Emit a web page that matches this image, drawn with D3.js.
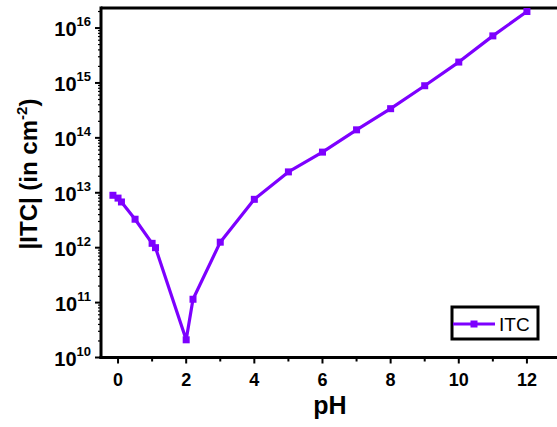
<!DOCTYPE html>
<html>
<head>
<meta charset="utf-8">
<script src="https://cdn.jsdelivr.net/npm/d3@7"></script>
<style>
  body { margin: 0; background: #fff; }
  svg { display: block; font-family: "Liberation Sans", Arial, sans-serif; }
</style>
</head>
<body>
<svg id="chart" width="557" height="427"></svg>
<script>
// data
const pH = [-0.15, 0, 0.1, 0.5, 1.0, 1.1, 2.0, 2.2, 3, 4, 5, 6, 7, 8, 9, 10, 11, 12];
const itc = [9.0e12, 8.0e12, 6.8e12, 3.3e12, 1.2e12, 1.0e12, 2.1e10, 1.15e11, 1.26e12,
             7.6e12, 2.4e13, 5.5e13, 1.4e14, 3.4e14, 8.9e14, 2.4e15, 7.2e15, 2.0e16];
const xTicks = [0, 2, 4, 6, 8, 10, 12];
const yExps = [10, 11, 12, 13, 14, 15, 16];
const seriesName = "ITC";

const purple = "#7d00ff";

const svg = d3.select("#chart");
const mLeft = 101, mTop = 8, mBottom = 357.5, mRight = 561;

const x = d3.scaleLinear().domain([-0.5, 13]).range([mLeft, mRight]);
const y = d3.scaleLog().domain([1e10, Math.pow(10, 16.365)]).range([mBottom, mTop]);

const data = pH.map((p, i) => ({p: p, v: itc[i]}));

// frame (top line, right side is off the picture)
svg.append("line")
  .attr("x1", mLeft).attr("x2", mRight + 10)
  .attr("y1", mTop).attr("y2", mTop)
  .attr("stroke", "#000").attr("stroke-width", 3);

// x axis
const xAxis = svg.append("g").attr("transform", `translate(0,${mBottom})`);
xAxis.append("line")
  .attr("x1", mLeft - 1.5).attr("x2", mRight + 10)
  .attr("stroke", "#000").attr("stroke-width", 3);
d3.range(0, 13).forEach(t => {
  xAxis.append("line")
    .attr("x1", x(t)).attr("x2", x(t))
    .attr("y1", 0).attr("y2", t % 2 === 0 ? 6 : 4)
    .attr("stroke", "#000").attr("stroke-width", 2);
});
xAxis.selectAll("text.xt")
  .data(xTicks).enter().append("text")
  .attr("class", "xt")
  .attr("x", d => x(d)).attr("y", 28)
  .attr("text-anchor", "middle")
  .attr("font-size", 18).attr("font-weight", "bold")
  .text(d => d);

// y axis
const yAxis = svg.append("g").attr("transform", `translate(${mLeft},0)`);
yAxis.append("line")
  .attr("y1", mTop - 1.5).attr("y2", mBottom + 1.5)
  .attr("stroke", "#000").attr("stroke-width", 3);
yExps.forEach(e => {
  yAxis.append("line")
    .attr("x1", 0).attr("x2", -6)
    .attr("y1", y(Math.pow(10, e))).attr("y2", y(Math.pow(10, e)))
    .attr("stroke", "#000").attr("stroke-width", 2);
  d3.range(2, 10).forEach(m => {
    const yy = y(m * Math.pow(10, e));
    if (yy < mTop) return;
    yAxis.append("line")
      .attr("x1", 0).attr("x2", -3)
      .attr("y1", yy).attr("y2", yy)
      .attr("stroke", "#000").attr("stroke-width", 1.2);
  });
  const lab = yAxis.append("text")
    .attr("x", -10).attr("y", y(Math.pow(10, e)) + 8)
    .attr("text-anchor", "end")
    .attr("font-weight", "bold");
  lab.append("tspan").attr("font-size", 20).text("10");
  lab.append("tspan").attr("font-size", 13).attr("dy", -10).text(e);
});

// series
const line = d3.line().x(d => x(d.p)).y(d => y(d.v));
svg.append("path")
  .datum(data)
  .attr("d", line)
  .attr("fill", "none")
  .attr("stroke", purple)
  .attr("stroke-width", 3.2)
  .attr("stroke-linejoin", "round");

svg.selectAll("rect.pt")
  .data(data).enter().append("rect")
  .attr("class", "pt")
  .attr("x", d => x(d.p) - 3.5).attr("y", d => y(d.v) - 3.5)
  .attr("width", 7).attr("height", 7)
  .attr("fill", purple);

// axis titles
svg.append("text")
  .attr("x", 330).attr("y", 414)
  .attr("text-anchor", "middle")
  .attr("font-size", 25).attr("font-weight", "bold")
  .text("pH");

const yt = svg.append("text")
  .attr("transform", "translate(37,174) rotate(-90)")
  .attr("text-anchor", "middle")
  .attr("font-size", 24).attr("font-weight", "bold");
yt.append("tspan").text("|ITC| (in cm");
yt.append("tspan").attr("font-size", 15).attr("dy", -10).text("-2");
yt.append("tspan").attr("dy", 10).text(")");

// legend
const lg = svg.append("g");
lg.append("rect")
  .attr("x", 452).attr("y", 307)
  .attr("width", 86).attr("height", 32)
  .attr("fill", "#fff").attr("stroke", "#000").attr("stroke-width", 3);
lg.append("line")
  .attr("x1", 453).attr("x2", 495)
  .attr("y1", 324).attr("y2", 324)
  .attr("stroke", purple).attr("stroke-width", 3.2);
lg.append("rect")
  .attr("x", 470.5).attr("y", 320.5).attr("width", 7).attr("height", 7)
  .attr("fill", purple);
lg.append("text")
  .attr("x", 499).attr("y", 331)
  .attr("font-size", 19)
  .text(seriesName);
</script>
</body>
</html>
